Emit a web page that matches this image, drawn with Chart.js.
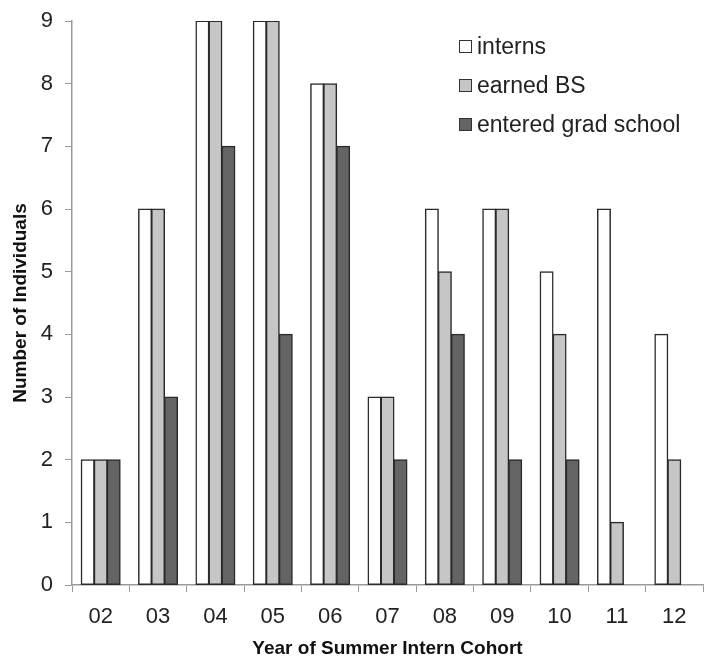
<!DOCTYPE html>
<html>
<head>
<meta charset="utf-8">
<script src="https://cdn.jsdelivr.net/npm/chart.js@4.4.1/dist/chart.umd.min.js"></script>
<style>
  html, body { margin: 0; padding: 0; background: #fff; }
  #wrap { position: relative; width: 714px; height: 666px; }
  #legend {
    position: absolute; left: 459px; top: 27px;
    font-family: 'Liberation Sans', Arial, sans-serif; font-size: 23px; color: #222;
  }
  #legend div { display: flex; align-items: center; height: 39px; }
  #legend span.box {
    display: inline-block; width: 11px; height: 11px;
    border: 1.5px solid #333; margin-right: 5px;
  }
</style>
</head>
<body>
<div id="wrap">
  <canvas id="chart" width="714" height="666"></canvas>
  <div id="legend"></div>
</div>
<script>
const years = ['02', '03', '04', '05', '06', '07', '08', '09', '10', '11', '12'];
const interns = [2, 6, 9, 9, 8, 3, 6, 6, 5, 6, 4];
const earnedBS = [2, 6, 9, 9, 8, 3, 5, 6, 4, 1, 2];
const enteredGrad = [2, 3, 7, 4, 7, 2, 4, 2, 2, 0, 0];

const seriesLabels = ['interns', 'earned BS', 'entered grad school'];
const seriesColors = ['#ffffff', '#c6c6c6', '#646464'];

const font = "'Liberation Sans', Arial, sans-serif";
const axisGray = '#9a9a9a';

const datasets = [interns, earnedBS, enteredGrad].map((values, i) => ({
  label: seriesLabels[i],
  data: values,
  backgroundColor: seriesColors[i],
  borderColor: '#2a2a2a',
  borderWidth: 1.5,
  borderSkipped: false,
  inflateAmount: 0.5,
  categoryPercentage: 0.68,
  barPercentage: 1.0,
}));

new Chart(document.getElementById('chart'), {
  type: 'bar',
  data: { labels: years, datasets: datasets },
  options: {
    responsive: false,
    animation: false,
    layout: { padding: { top: 0, right: 11, bottom: 0, left: 0 } },
    plugins: {
      legend: { display: false },
      tooltip: { enabled: false },
    },
    scales: {
      x: {
        grid: { drawOnChartArea: false, tickLength: 7, color: axisGray, offset: true },
        border: { color: axisGray, width: 1.5 },
        ticks: { color: '#222', font: { family: font, size: 22 }, padding: 12 },
        title: {
          display: true,
          text: 'Year of Summer Intern Cohort',
          color: '#111',
          font: { family: font, size: 19, weight: 'bold' },
          padding: { top: 0, bottom: 6 },
        },
        afterFit: (scale) => { scale.height = 81; },
      },
      y: {
        min: 0,
        max: 9,
        grid: { drawOnChartArea: false, tickLength: 7, color: axisGray },
        border: { color: axisGray, width: 1.5 },
        ticks: { stepSize: 1, color: '#222', font: { family: font, size: 22, lineHeight: 1 }, padding: 12 },
        title: {
          display: true,
          text: 'Number of Individuals',
          color: '#111',
          font: { family: font, size: 19, weight: 'bold' },
          padding: { top: 9, bottom: 0 },
        },
        afterFit: (scale) => {
          scale.width = 72;
          scale.paddingTop = 21;
        },
      },
    },
  },
});

// legend built from the series labels and colours
const legendEl = document.getElementById('legend');
seriesLabels.forEach((label, i) => {
  const row = document.createElement('div');
  const box = document.createElement('span');
  box.className = 'box';
  box.style.background = seriesColors[i];
  row.appendChild(box);
  row.appendChild(document.createTextNode(label));
  legendEl.appendChild(row);
});
</script>
</body>
</html>
